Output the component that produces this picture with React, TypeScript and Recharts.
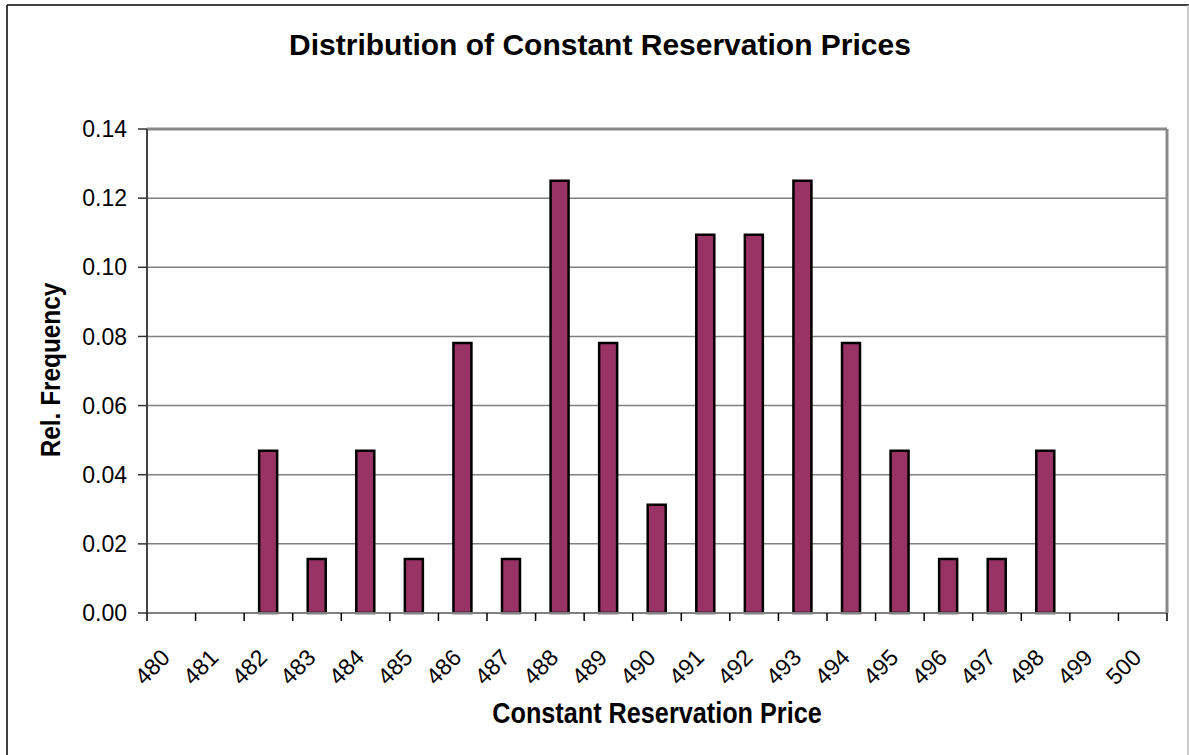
import { BarChart, Bar, XAxis, YAxis, CartesianGrid, ReferenceLine } from "recharts";

const prices = [
    "480", "481", "482", "483", "484", "485", "486", "487", "488", "489", "490",
    "491", "492", "493", "494", "495", "496", "497", "498", "499", "500",
];
const relFrequency = [
    0, 0, 0.0469, 0.0156, 0.0469, 0.0156, 0.0781, 0.0156, 0.125, 0.0781, 0.0313,
    0.1094, 0.1094, 0.125, 0.0781, 0.0469, 0.0156, 0.0156, 0.0469, 0, 0,
];
const yTicks = [0, 0.02, 0.04, 0.06, 0.08, 0.1, 0.12, 0.14];

const W = 1189;
const H = 755;
const Y_AXIS_W = 60;
const X_AXIS_H = 30;
const R_AXIS_W = 2;
const margin = { top: 129, right: 22 - R_AXIS_W, bottom: 142 - X_AXIS_H, left: 147 - Y_AXIS_W };
const band = (W - 147 - 22) / prices.length;
const font = "'Liberation Sans', Arial, sans-serif";

const data = prices.map((p, i) => ({ price: p, freq: relFrequency[i] }));

// Excel style: tick marks between categories, labels rotated
const XTick = (props: any) => {
    const { x, y, payload, index } = props;
    const ly = y + 46;
    return (
        <g>
            <line x1={x - band / 2} y1={y} x2={x - band / 2} y2={y + 8} stroke="#000" strokeWidth={1.5} />
            {index === prices.length - 1 && (
                <line x1={x + band / 2} y1={y} x2={x + band / 2} y2={y + 8} stroke="#000" strokeWidth={1.5} />
            )}
            <text
                x={x}
                y={ly}
                textAnchor="end"
                transform={`rotate(-45 ${x} ${ly})`}
                fontSize={23}
                fontFamily={font}
                fill="#000"
            >
                {payload.value}
            </text>
        </g>
    );
};

const App = () => {
    return (
        <div style={{ position: "absolute", left: 0, top: 0, width: W, height: H, background: "#fff" }}>
            <svg width={W} height={H} style={{ position: "absolute", left: 0, top: 0 }}>
                <line x1={7} y1={5} x2={7} y2={H} stroke="#000" strokeWidth={1.5} />
                <line x1={7} y1={5} x2={W} y2={5} stroke="#000" strokeWidth={1.5} />
                <line x1={W - 1} y1={5} x2={W - 1} y2={H} stroke="#bbb" strokeWidth={1.5} />
                <text x={600} y={55} textAnchor="middle" fontSize={30} fontWeight="bold" fontFamily={font}>
                    Distribution of Constant Reservation Prices
                </text>
                <text
                    transform="translate(657 723) scale(0.87 1)"
                    textAnchor="middle"
                    fontSize={29}
                    fontWeight="bold"
                    fontFamily={font}
                >
                    Constant Reservation Price
                </text>
                <text
                    transform="translate(60 370) rotate(-90) scale(0.87 1)"
                    textAnchor="middle"
                    fontSize={28}
                    fontWeight="bold"
                    fontFamily={font}
                >
                    Rel. Frequency
                </text>
            </svg>
            <div style={{ position: "absolute", left: 0, top: 0 }}>
                <BarChart width={W} height={H} data={data} margin={margin} barSize={18}>
                    <CartesianGrid vertical={false} stroke="#808080" strokeWidth={1.5} />
                    <XAxis
                        dataKey="price"
                        height={X_AXIS_H}
                        interval={0}
                        tickSize={0}
                        tickMargin={0}
                        tickLine={false}
                        axisLine={{ stroke: "#808080", strokeWidth: 2 }}
                        tick={<XTick />}
                    />
                    <YAxis
                        type="number"
                        domain={[0, 0.14]}
                        ticks={yTicks}
                        width={Y_AXIS_W}
                        tickSize={9}
                        tickMargin={11}
                        tickFormatter={(v: number) => v.toFixed(2)}
                        tick={{ fill: "#000", fontSize: 23, fontFamily: font }}
                        tickLine={{ stroke: "#333", strokeWidth: 1.5 }}
                        axisLine={{ stroke: "#444", strokeWidth: 2 }}
                    />
                    <YAxis
                        yAxisId="r"
                        orientation="right"
                        type="number"
                        domain={[0, 0.14]}
                        width={R_AXIS_W}
                        tick={false}
                        tickLine={false}
                        axisLine={{ stroke: "#888", strokeWidth: 3 }}
                    />
                    <ReferenceLine y={0.14} stroke="#888" strokeWidth={3} />
                    <Bar dataKey="freq" fill="#993366" stroke="#000" strokeWidth={2.5} isAnimationActive={false} />
                </BarChart>
            </div>
        </div>
    );
};

export default App;
